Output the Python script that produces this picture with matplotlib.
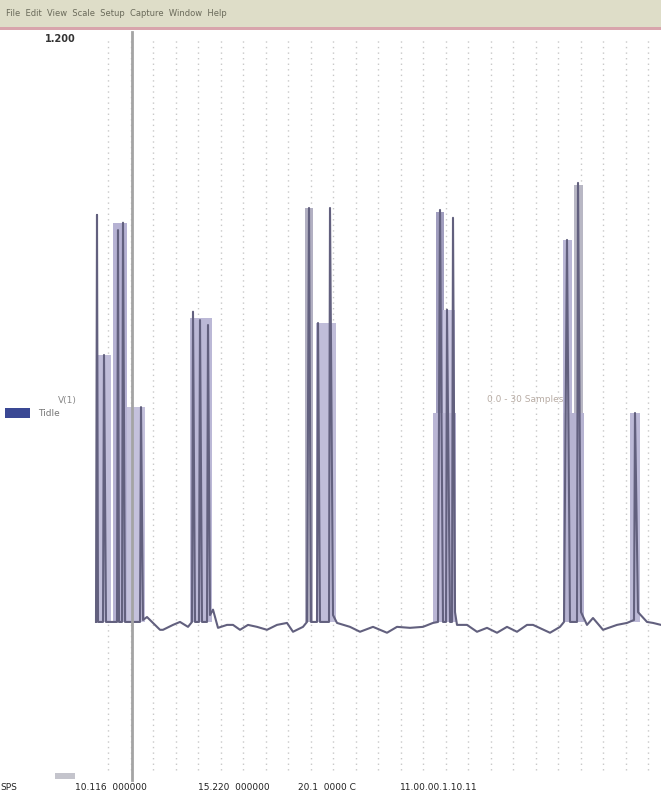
import numpy as np
import matplotlib
matplotlib.use("Agg")
import matplotlib.pyplot as plt
from matplotlib.patches import Rectangle

# trace (time in samples, level in volts)
trace_t = [96, 97, 98, 103, 104, 106, 117, 118, 119, 122, 123, 125, 140, 141, 143, 147, 160, 163, 173, 180, 188,
           192, 193, 195, 199, 200, 202, 207, 208, 210, 213, 218, 227, 233, 240, 248, 257, 267, 277, 287, 293, 303,
           307, 309, 311, 317, 318, 320, 329, 330, 333, 337, 350, 360, 373, 387, 397, 410, 423, 433,
           438, 440, 443, 446, 447, 450, 452, 453, 455, 457, 467, 477, 487, 497, 507, 517, 527, 533, 550, 560,
           564, 567, 570, 577, 578, 581, 587, 593, 603, 617, 627, 634, 635, 638, 647, 653, 661]
trace_v = [0.006, 0.834, 0.006, 0.006, 0.549, 0.006, 0.006, 0.803, 0.006, 0.006, 0.818, 0.006, 0.006, 0.443, 0.010,
           0.016, -0.010, -0.010, 0.000, 0.006, -0.004,
           0.006, 0.637, 0.006, 0.006, 0.620, 0.006, 0.006, 0.610, 0.020, 0.031, -0.006, 0.000, 0.000, -0.010, 0.000,
           -0.004, -0.010, 0.000, 0.004, -0.014, -0.004,
           0.006, 0.848, 0.006, 0.006, 0.614, 0.006, 0.006, 0.848, 0.020, 0.004, -0.004, -0.014, -0.004, -0.016, -0.004,
           -0.006, -0.004, 0.004,
           0.006, 0.844, 0.006, 0.006, 0.641, 0.006, 0.006, 0.828, 0.026, 0.000, 0.000, -0.014, -0.006, -0.016, -0.004,
           -0.014, 0.000, 0.000, -0.016, -0.004,
           0.006, 0.783, 0.006, 0.006, 0.899, 0.026, 0.000, 0.014, -0.010, 0.000, 0.004, 0.010, 0.431, 0.026, 0.006,
           0.004, 0.000]

# shaded bursts: start, end, top level, shade
burst_t0 = [97, 113, 127, 190, 305, 316, 436, 443, 433, 563, 574, 563, 630]
burst_t1 = [111, 127, 145, 212, 313, 336, 444, 455, 456, 572, 583, 584, 640]
burst_top = [0.549, 0.818, 0.443, 0.624, 0.848, 0.614, 0.840, 0.641, 0.431, 0.783, 0.895, 0.431, 0.431]
burst_shade = ['#c0bdd9', '#b6b2d3', '#c4c1dc', '#bbb8d6', '#b2b0c2', '#c0bdd9', '#a09dbe',
               '#c8c5e0', '#bab6d5', '#bab7d6', '#b8b7c4', '#b6b3d1', '#bcb9d7']
burst_floor = 0.006

cursor_t = 132
top_label = "1.200"
menu_text = "File  Edit  View  Scale  Setup  Capture  Window  Help"
bottom_labels = ["SPS", "10.116  000000", "15.220  000000", "20.1  0000 C", "11.00.00.1.10.11"]
bottom_label_t = [0, 75, 198, 298, 400]

fig = plt.figure(figsize=(6.61, 7.95), dpi=100)
ax = fig.add_axes([0, 0, 1, 1])
ax.set_xlim(0, 661)
ax.set_ylim(-0.346, 1.271)
ax.axis('off')

# dotted grid
for gx in np.arange(108, 661, 22.5):
    ax.plot([gx, gx], [-0.295, 1.195], color='#c8c8c8', lw=1.0, ls=(0, (1, 3)), zorder=1)

for t0, t1, top, c in zip(burst_t0, burst_t1, burst_top, burst_shade):
    ax.add_patch(Rectangle((t0, burst_floor), t1 - t0, top - burst_floor,
                           facecolor=c, edgecolor='none', zorder=2))

ax.plot(trace_t, trace_v, color='#62607e', lw=1.5, zorder=3)

# cursor
ax.plot([cursor_t, cursor_t], [-0.315, 1.205], color='#a4a4a4', lw=2, zorder=4)

ax.text(45, 1.192, top_label, fontsize=7, color='#333333', fontweight='bold', va='center')

# channel labels
fig.patches.append(Rectangle((5 / 661, 1 - 418 / 795), 25 / 661, 10 / 795,
                             transform=fig.transFigure, facecolor='#3a4894', edgecolor='none'))
fig.text(58 / 661, 1 - 401 / 795, "V(1)", fontsize=6.5, color='#888888', va='center')
fig.text(38 / 661, 1 - 413 / 795, "Tidle", fontsize=6.5, color='#777777', va='center')
fig.text(487 / 661, 1 - 400 / 795, "0.0 - 30 Samples", fontsize=6.5, color='#b8aca4', va='center')

# menu bar
fig.patches.append(Rectangle((0, 1 - 27 / 795), 1, 27 / 795, transform=fig.transFigure,
                             facecolor='#deddc8', edgecolor='none'))
fig.patches.append(Rectangle((0, 1 - 30 / 795), 1, 3 / 795, transform=fig.transFigure,
                             facecolor='#d8a4ac', edgecolor='none'))
fig.text(6 / 661, 1 - 13 / 795, menu_text, fontsize=6, color='#6a6a5a', va='center')

# status row
fig.patches.append(Rectangle((55 / 661, 1 - 779 / 795), 20 / 661, 6 / 795,
                             transform=fig.transFigure, facecolor='#c4c4cc', edgecolor='none'))
for lbl, lt in zip(bottom_labels, bottom_label_t):
    fig.text(lt / 661, 1 - 787 / 795, lbl, fontsize=6.5, color='#222222', va='center')

fig.savefig("out.png", dpi=100, facecolor='white')
